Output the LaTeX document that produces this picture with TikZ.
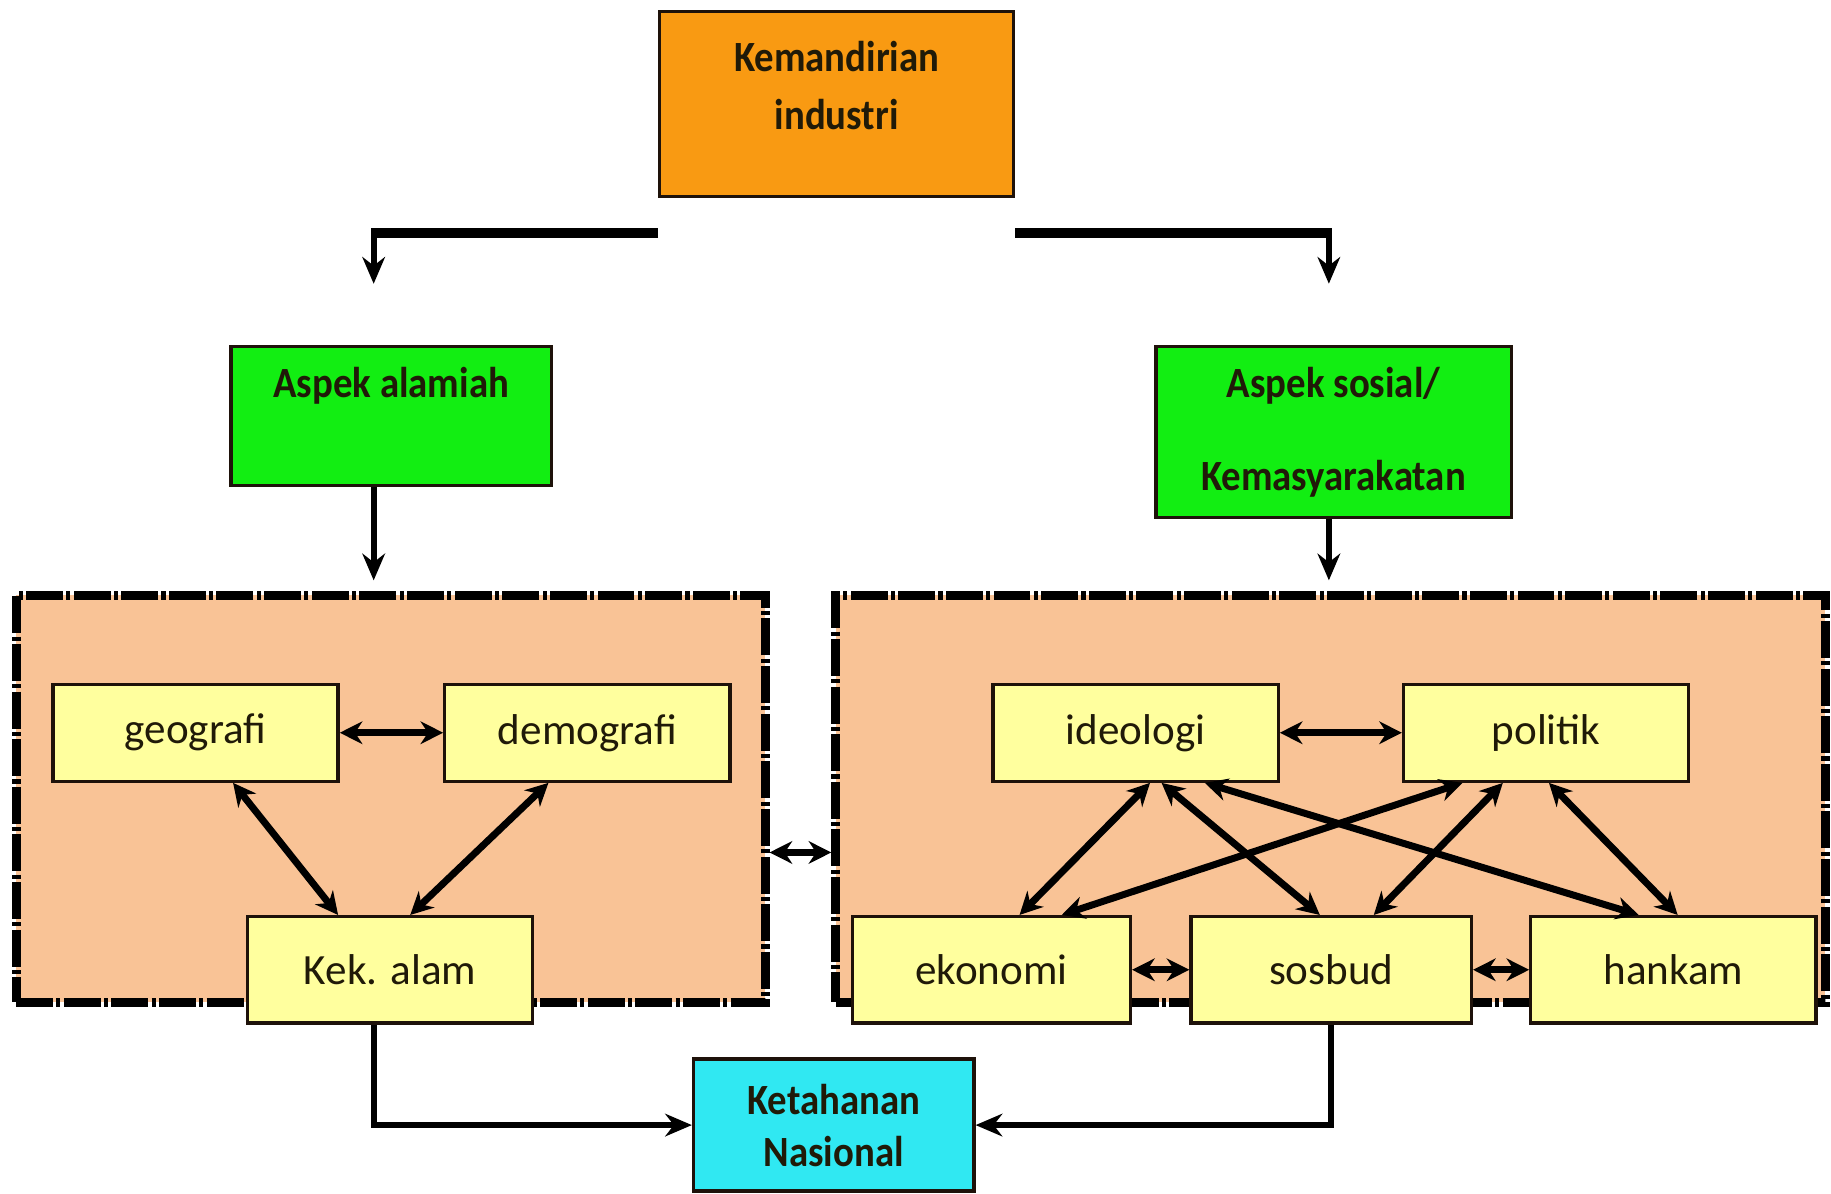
\documentclass[tikz,border=0pt]{standalone}
\usepackage{fontspec}
\setmainfont{Carlito}
\newfontfamily\hdfont{Carlito}[FakeStretch=0.9]
\usetikzlibrary{arrows.meta,calc}
\definecolor{orangefill}{HTML}{F99A12}
\definecolor{greenfill}{HTML}{12EE12}
\definecolor{peachfill}{HTML}{F9C396}
\definecolor{yellowfill}{HTML}{FFFF9E}
\definecolor{cyanfill}{HTML}{30E8F2}
\definecolor{edge}{HTML}{1E120A}
\definecolor{ink}{HTML}{201A08}
\begin{document}
\begin{tikzpicture}[x=0.01cm,y=-0.01cm,
  box/.style={draw=edge, line width=0.8pt, rectangle, inner sep=0pt},
  hdr/.style={font=\hdfont\bfseries\fontsize{10.5pt}{14.2pt}\selectfont, text=ink, align=center, inner sep=0pt},
  item/.style={box, fill=yellowfill, minimum width=2.44cm, minimum height=0.83cm, font=\fontsize{10.5pt}{12pt}\selectfont, text=ink},
  group/.style={draw=black, fill=peachfill, line width=2.2pt, dash pattern=on 9pt off 0.8pt on 1pt off 0.8pt, inner sep=0pt},
  bar/.style={draw=black, line width=2.6pt},
  drop/.style={draw=black, line width=1.5pt, -{Stealth[length=6.5pt,width=5.5pt]}},
  link/.style={draw=black, line width=1.7pt, {Stealth[length=5.5pt,width=5.5pt]}-{Stealth[length=5.5pt,width=5.5pt]}},
  feed/.style={draw=black, line width=1.5pt, -{Stealth[length=6.5pt,width=5.5pt]}}
]
\fill[white] (0,0) rectangle (1568,1022);
\useasboundingbox (0,0) rectangle (1568,1022);

% header boxes
\node[box, fill=orangefill, minimum width=3.03cm, minimum height=1.58cm] (top) at (716.5,89) {};
\node[hdr] (topt) at (716.5,73) {Kemandirian\\industri};
\node[box, fill=greenfill, minimum width=2.74cm, minimum height=1.19cm] (aal) at (335,356.5) {};
\node[hdr] (aalt) at (335,330) {Aspek alamiah};
\node[box, fill=greenfill, minimum width=3.04cm, minimum height=1.46cm] (aso) at (1142,370) {};
\node[hdr] (asot) at (1142,370) {Aspek sosial/\\[8.5pt]Kemasyarakatan};

% group containers
\node[group, minimum width=6.41cm, minimum height=3.48cm] (lgrp) at (334.5,684) {};
\node[group, minimum width=8.47cm, minimum height=3.48cm] (rgrp) at (1139.5,684) {};

% items
\node[item] (geo) at (167.5,627.5) {geografi};
\node[item] (dem) at (503,627.5) {demografi};
\node[item, minimum height=0.91cm] (kek) at (334,830.5) {Kek. alam};
\node[item] (ide) at (972.5,627.5) {ideologi};
\node[item] (pol) at (1324,627.5) {politik};
\node[item, minimum width=2.38cm, minimum height=0.91cm] (eko) at (849,830.5) {ekonomi};
\node[item, minimum width=2.40cm, minimum height=0.91cm] (sos) at (1140,830.5) {sosbud};
\node[item, minimum height=0.91cm] (han) at (1433,830.5) {hankam};

% result
\node[box, fill=cyanfill, minimum width=2.40cm, minimum height=1.13cm] (ket) at (714,963.5) {};
\node[hdr, font=\hdfont\bfseries\fontsize{10.5pt}{12.5pt}\selectfont] (kett) at (714,964) {Ketahanan\\Nasional};

% top split
\coordinate (tl) at ([yshift=-0.3cm]top.south west);
\coordinate (tr) at ([yshift=-0.3cm]top.south east);
\coordinate (alin) at (320,243);
\coordinate (arin) at (1138,243);
\draw[bar] (tl) -- ([xshift=-0.75pt]tl -| alin);
\draw[bar] (tr) -- ([xshift=0.75pt]tr -| arin);
\draw[drop] (tl -| alin) -- (alin);
\draw[drop] (tr -| arin) -- (arin);

% into groups
\coordinate (lgin) at (320,497);
\coordinate (rgin) at (1138,497);
\draw[drop] (aal.south -| alin) -- (lgin);
\draw[drop] (aso.south -| arin) -- (rgin);

% between groups
\draw[link] ([yshift=-0.46cm]lgrp.east) -- ([yshift=-0.46cm]rgrp.west);

% left links
\draw[link] (geo.east) -- (dem.west);
\draw[link] ($(geo.south west)!0.63!(geo.south east)$) -- ($(kek.north west)!0.32!(kek.north east)$);
\draw[link] ($(dem.south west)!0.365!(dem.south east)$) -- ($(kek.north west)!0.57!(kek.north east)$);

% right links
\draw[link] (ide.east) -- (pol.west);
\draw[link] ($(ide.south west)!0.55!(ide.south east)$) -- ($(eko.north west)!0.60!(eko.north east)$);
\draw[link] ($(ide.south west)!0.59!(ide.south east)$) -- ($(sos.north west)!0.46!(sos.north east)$);
\draw[link] ($(ide.south west)!0.74!(ide.south east)$) -- ($(han.north west)!0.38!(han.north east)$);
\draw[link] ($(pol.south west)!0.21!(pol.south east)$) -- ($(eko.north west)!0.75!(eko.north east)$);
\draw[link] ($(pol.south west)!0.35!(pol.south east)$) -- ($(sos.north west)!0.65!(sos.north east)$);
\draw[link] ($(pol.south west)!0.51!(pol.south east)$) -- ($(han.north west)!0.515!(han.north east)$);
\draw[link] (eko.east) -- (sos.west);
\draw[link] (sos.east) -- (han.west);

% to result
\draw[feed] (kek.south -| alin) |- (ket.west);
\draw[feed] (sos.south) |- (ket.east);
\end{tikzpicture}
\end{document}
